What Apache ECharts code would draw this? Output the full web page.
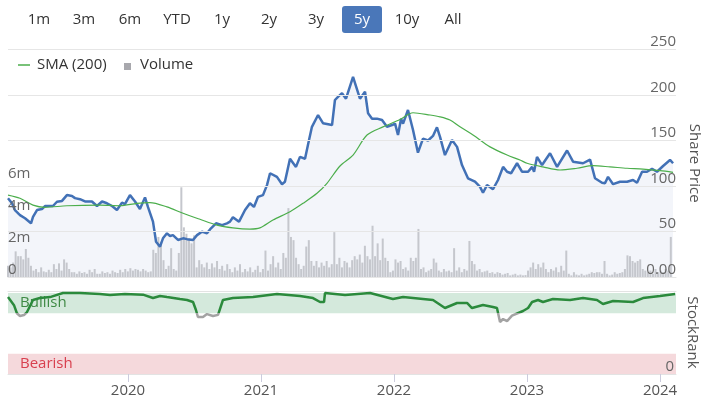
<!DOCTYPE html>
<html>
<head>
<meta charset="utf-8">
<title>Share Price - 5y</title>
<script src="https://cdn.jsdelivr.net/npm/echarts@6.0.0/dist/echarts.min.js"></script>
<style>
  html, body { margin: 0; padding: 0; background: #fff; }
  #chart { width: 711px; height: 398px; }
</style>
</head>
<body>
<div id="chart"></div>
<script>
const FONT = '"Open Sans", "Noto Sans", sans-serif';

// range buttons
const ranges = ['1m', '3m', '6m', 'YTD', '1y', '2y', '3y', '5y', '10y', 'All'];
const activeRange = '5y';

// x values are decimal years
const xMin = 2019.098;
const xMax = 2024.12;
const yearTicks = [2020, 2021, 2022, 2023, 2024];

// share price [year, price]
const price = [
  [2019.098, 86.5], [2019.128, 81], [2019.150, 73.6], [2019.188, 68], [2019.226, 64.5],
  [2019.271, 59], [2019.286, 66], [2019.316, 73.6], [2019.353, 74.7], [2019.376, 78],
  [2019.436, 78], [2019.466, 82.7], [2019.504, 83.6], [2019.541, 90], [2019.579, 89],
  [2019.602, 86.7], [2019.639, 85.5], [2019.677, 83], [2019.729, 83], [2019.767, 78],
  [2019.805, 83], [2019.842, 81], [2019.880, 78], [2019.917, 73.6], [2019.955, 81.7],
  [2019.977, 80], [2020.015, 90], [2020.053, 83], [2020.090, 74.7], [2020.128, 87.5],
  [2020.150, 77], [2020.188, 60.8], [2020.211, 38.8], [2020.241, 33.3], [2020.263, 42.5],
  [2020.293, 48], [2020.316, 45], [2020.338, 46], [2020.376, 40.7], [2020.414, 42.5],
  [2020.444, 41.6], [2020.489, 40.7], [2020.519, 46], [2020.556, 49.8], [2020.594, 48],
  [2020.624, 53.5], [2020.662, 59], [2020.707, 57], [2020.744, 59], [2020.767, 60.8],
  [2020.789, 65.6], [2020.835, 60.8], [2020.880, 73.6], [2020.917, 81], [2020.947, 77],
  [2020.977, 88], [2021.015, 90], [2021.045, 101], [2021.068, 114], [2021.120, 110],
  [2021.158, 102], [2021.180, 104.7], [2021.218, 130], [2021.263, 121], [2021.293, 132],
  [2021.331, 130], [2021.353, 145], [2021.383, 165], [2021.429, 178], [2021.466, 169],
  [2021.534, 167], [2021.556, 194.5], [2021.579, 198], [2021.609, 202], [2021.639, 196],
  [2021.692, 220], [2021.707, 222], [2021.744, 196], [2021.782, 203.6], [2021.805, 180],
  [2021.835, 174], [2021.872, 174], [2021.910, 172.5], [2021.947, 165], [2021.985, 167],
  [2022.008, 168.5], [2022.030, 156], [2022.053, 174], [2022.068, 168.5], [2022.105, 183.5],
  [2022.143, 161.5], [2022.180, 136.6], [2022.218, 152], [2022.256, 150], [2022.293, 155],
  [2022.323, 164.5], [2022.346, 154], [2022.383, 134], [2022.436, 150.5], [2022.474, 143],
  [2022.511, 123], [2022.556, 108.5], [2022.609, 104.7], [2022.647, 99], [2022.669, 92.6],
  [2022.699, 101], [2022.744, 96.4], [2022.782, 106.6], [2022.820, 121], [2022.850, 115.7],
  [2022.880, 114], [2022.925, 125], [2022.962, 115.7], [2023.008, 115.7], [2023.038, 121],
  [2023.053, 115.7], [2023.075, 132], [2023.113, 123], [2023.173, 136], [2023.226, 121],
  [2023.301, 139], [2023.346, 126.7], [2023.421, 125], [2023.474, 129], [2023.511, 108.5],
  [2023.564, 103.6], [2023.586, 103], [2023.609, 110], [2023.647, 102], [2023.699, 104.7],
  [2023.752, 104.7], [2023.797, 106.6], [2023.827, 103.6], [2023.865, 115.7], [2023.902, 115.7],
  [2023.940, 119], [2023.977, 115.7], [2024.023, 122], [2024.075, 128.6], [2024.098, 125]
];

// 200 day moving average [year, price]
const sma200 = [
  [2019.098, 90], [2019.188, 86.5], [2019.286, 79], [2019.376, 76.6], [2019.541, 78.3],
  [2019.789, 79], [2019.940, 78.3], [2020.068, 81], [2020.165, 81.7], [2020.293, 77],
  [2020.414, 70], [2020.541, 63.4], [2020.669, 57], [2020.789, 54], [2020.917, 52.7],
  [2020.992, 54], [2021.090, 62.6], [2021.218, 71.8], [2021.316, 81], [2021.421, 92],
  [2021.496, 103], [2021.594, 122], [2021.692, 134], [2021.797, 156], [2021.917, 165],
  [2022.045, 173], [2022.143, 180.5], [2022.271, 178], [2022.346, 176], [2022.421, 172.5],
  [2022.496, 165], [2022.594, 156], [2022.722, 143], [2022.850, 134], [2022.947, 128.6],
  [2023.000, 125], [2023.120, 121], [2023.248, 117.6], [2023.376, 119.5], [2023.496, 122.3],
  [2023.624, 121], [2023.752, 119.5], [2023.872, 118.5], [2024.000, 116.8], [2024.098, 115]
];

// weekly volume in millions, first week starts at volStart
const volStart = 2019.098;
const volume = [
  0.7, 0.6, 0.9, 1.6, 1.3, 1.3, 1.1, 1.75, 1.2, 0.7,
  0.4, 0.5, 0.3, 0.6, 0.35, 0.3, 0.45, 0.3, 0.8, 0.5,
  0.85, 0.4, 1.1, 0.9, 0.5, 0.3, 0.3, 0.2, 0.35, 0.25,
  0.3, 0.2, 0.45, 0.3, 0.5, 0.2, 0.2, 0.35, 0.25, 0.3,
  0.2, 0.4, 0.3, 0.25, 0.45, 0.3, 0.5, 0.35, 0.55, 0.4,
  0.5, 0.45, 0.35, 0.5, 0.4, 0.3, 0.35, 1.7, 1.5, 2.5,
  2.2, 1.05, 0.5, 0.7, 1.8, 0.5, 0.4, 1.5, 5.6, 3.1,
  2.7, 2.4, 2.1, 2.6, 0.6, 1.05, 0.8, 0.6, 0.9, 0.5,
  0.85, 0.6, 1.0, 0.5, 0.7, 0.4, 0.8, 0.5, 0.3, 0.6,
  0.4, 0.8, 0.3, 0.5, 0.35, 0.6, 0.3, 0.45, 0.7, 0.3,
  0.5, 1.65, 0.4, 0.8, 1.3, 0.6, 0.9, 0.5, 1.5, 1.2,
  4.3, 2.5, 2.3, 1.2, 0.8, 0.5, 0.7, 1.9, 2.3, 1.0,
  0.7, 1.0, 0.6, 0.9, 0.7, 1.0, 0.6, 0.8, 2.8, 0.8,
  1.2, 0.6, 1.0, 0.9, 0.6, 1.05, 1.3, 1.1, 1.4, 0.9,
  1.95, 1.3, 1.1, 3.2, 1.3, 2.1, 1.05, 2.4, 1.2, 1.0,
  0.3, 0.4, 1.1, 0.9, 1.0, 0.5, 0.6, 0.4, 1.2, 1.0,
  1.2, 3.0, 0.5, 0.6, 0.3, 0.4, 0.5, 1.15, 0.9, 0.4,
  0.3, 0.5, 0.35, 0.4, 0.3, 1.8, 0.4, 0.6, 0.3, 0.5,
  0.4, 2.25, 1.0, 0.8, 0.4, 0.5, 0.3, 0.35, 0.4, 0.25,
  0.3, 0.2, 0.3, 0.25, 0.15, 0.2, 0.25, 0.1, 0.15, 0.2,
  0.1, 0.15, 0.1, 0.12, 0.4, 0.6, 0.9, 0.5, 0.8, 0.6,
  0.9, 0.5, 0.3, 0.5, 0.4, 0.6, 0.3, 0.7, 0.4, 1.65,
  0.2, 0.1, 0.3, 0.15, 0.1, 0.2, 0.1, 0.15, 0.2, 0.3,
  0.25, 0.3, 0.3, 0.2, 1.0, 0.2, 0.1, 0.15, 0.3, 0.2,
  0.25, 0.3, 0.5, 1.35, 1.3, 1.0, 0.9, 1.0, 1.1, 0.5,
  0.4, 0.3, 0.4, 0.2, 0.5, 0.3, 0.4, 0.3, 0.5, 0.4, 2.5
];

// StockRank [year, rank]
const stockRank = [
  [2019.098, 95], [2019.143, 85], [2019.165, 75], [2019.188, 71.6], [2019.218, 72.8],
  [2019.241, 76.5], [2019.286, 91.4], [2019.338, 93.8], [2019.414, 95], [2019.511, 100],
  [2019.639, 100], [2019.789, 98.8], [2019.865, 97.5], [2019.977, 98.8], [2020.113, 98],
  [2020.188, 93.8], [2020.241, 96.3], [2020.293, 95], [2020.391, 92.6], [2020.444, 91.4],
  [2020.489, 88.9], [2020.511, 79], [2020.526, 70.4], [2020.564, 70.4], [2020.594, 74],
  [2020.639, 71.6], [2020.677, 73], [2020.714, 91.4], [2020.789, 93.8], [2020.940, 95],
  [2021.120, 98.8], [2021.293, 96.3], [2021.391, 93.8], [2021.444, 88.9], [2021.474, 88.9],
  [2021.481, 100], [2021.632, 97.5], [2021.820, 100], [2021.992, 92.6], [2022.068, 95],
  [2022.218, 92.6], [2022.293, 91.4], [2022.383, 81.5], [2022.474, 87.7], [2022.549, 87.7],
  [2022.586, 81.5], [2022.669, 85.2], [2022.744, 82.7], [2022.774, 81.5], [2022.797, 64.2],
  [2022.820, 67.9], [2022.850, 65.4], [2022.887, 72], [2022.970, 77.8], [2023.008, 81.5],
  [2023.038, 88.9], [2023.083, 91.4], [2023.120, 88.9], [2023.195, 92.6], [2023.323, 91.4],
  [2023.421, 93.8], [2023.526, 91.4], [2023.571, 86.4], [2023.647, 90.1], [2023.797, 88.9],
  [2023.872, 93.8], [2024.000, 96.3], [2024.113, 98.8]
];
const bullishFrom = 75;
const bearishTo = 25;

const volumeData = volume.map((v, i) => [volStart + i * 7 / 365.25, v]);

// buttons across the top
const btnX = [39, 84, 130, 177, 222, 269, 316, 362, 407, 453];
const graphics = [];
ranges.forEach((r, i) => {
  if (r === activeRange) {
    graphics.push({
      type: 'rect', shape: { x: btnX[i] - 20, y: 6, width: 40, height: 27, r: 3 },
      style: { fill: '#4a77b9' }
    });
  }
  graphics.push({
    type: 'text', x: btnX[i], y: 20, z: 10,
    style: {
      text: r, fill: r === activeRange ? '#fff' : '#333',
      font: '15px ' + FONT, align: 'center', verticalAlign: 'middle'
    }
  });
});
// legend
graphics.push(
  { type: 'line', shape: { x1: 18, y1: 65, x2: 30, y2: 65 }, style: { stroke: '#4cae4c', lineWidth: 1.5 } },
  { type: 'text', x: 37, y: 65, style: { text: 'SMA (200)', fill: '#333', font: '15px ' + FONT, verticalAlign: 'middle' } },
  { type: 'rect', shape: { x: 124, y: 63, width: 7, height: 7 }, style: { fill: '#a8a8ad' } },
  { type: 'text', x: 140, y: 65, style: { text: 'Volume', fill: '#333', font: '15px ' + FONT, verticalAlign: 'middle' } }
);

const chart = echarts.init(document.getElementById('chart'));

const option = {
  animation: false,
  backgroundColor: '#fff',
  textStyle: { fontFamily: FONT },
  graphic: graphics,
  grid: [
    { left: 8, right: 35, top: 49.5, height: 227.5 },
    { left: 8, right: 35, top: 291, height: 83 }
  ],
  xAxis: [
    {
      type: 'value', gridIndex: 0, min: xMin, max: xMax,
      axisLine: { show: true, lineStyle: { color: '#e3e3e3' } },
      axisTick: { show: false }, axisLabel: { show: false }, splitLine: { show: false }
    },
    {
      type: 'value', gridIndex: 1, min: xMin, max: xMax,
      axisLine: { show: true, lineStyle: { color: '#e3e3e3' } },
      axisTick: { show: true, length: 8, customValues: yearTicks, lineStyle: { color: '#ccd' } },
      axisLabel: { customValues: yearTicks, color: '#555', fontSize: 15, margin: 9, formatter: v => String(v) },
      splitLine: { show: false }
    },
    {
      // thin line along the top of the StockRank panel
      type: 'value', gridIndex: 1, position: 'top', min: xMin, max: xMax,
      axisLine: { show: true, lineStyle: { color: '#e3e3e3' } },
      axisTick: { show: false }, axisLabel: { show: false }, splitLine: { show: false }
    }
  ],
  yAxis: [
    {
      type: 'value', gridIndex: 0, position: 'right', min: 0, max: 250, interval: 50, z: 6,
      name: 'Share Price', nameLocation: 'middle', nameRotate: -90, nameGap: 8,
      nameTextStyle: { color: '#555', fontSize: 15 },
      axisLine: { show: false }, axisTick: { show: false },
      axisLabel: {
        inside: true, color: '#666', fontSize: 15, verticalAlign: 'bottom', margin: 0,
        formatter: v => v === 0 ? '0.00' : String(v)
      },
      splitLine: { lineStyle: { color: '#e6e6e6' } }
    },
    {
      type: 'value', gridIndex: 0, position: 'left', min: 0, max: 14.2, interval: 2, z: 6,
      axisLine: { show: false }, axisTick: { show: false }, splitLine: { show: false },
      axisLabel: {
        inside: true, color: '#666', fontSize: 15, verticalAlign: 'bottom', margin: 0,
        showMaxLabel: false,
        formatter: v => v > 6 ? '' : (v === 0 ? '0' : v + 'm')
      }
    },
    {
      type: 'value', gridIndex: 1, position: 'right', min: 0, max: 102.5, interval: 100, z: 6,
      name: 'StockRank', nameLocation: 'middle', nameRotate: -90, nameGap: 8,
      nameTextStyle: { color: '#555', fontSize: 15 },
      axisLine: { show: false }, axisTick: { show: false }, splitLine: { show: false },
      axisLabel: {
        inside: true, color: '#666', fontSize: 15, verticalAlign: 'bottom', margin: 2,
        formatter: v => v === 0 ? '0' : ''
      }
    }
  ],
  visualMap: {
    show: false, type: 'piecewise', seriesIndex: 4, dimension: 1,
    pieces: [
      { min: 0, max: bullishFrom, color: '#a3a3a3' },
      { min: bullishFrom, max: 102.5, color: '#2b8a3c' }
    ]
  },
  series: [
    {
      name: 'area', type: 'line', xAxisIndex: 0, yAxisIndex: 0, data: price,
      showSymbol: false, silent: true, z: 1,
      lineStyle: { width: 0, opacity: 0 }, areaStyle: { color: '#f3f5fa', opacity: 1 }
    },
    {
      name: 'Volume', type: 'bar', xAxisIndex: 0, yAxisIndex: 1, data: volumeData,
      barWidth: 2, itemStyle: { color: '#c5c7cd' }, z: 2
    },
    {
      name: 'Price', type: 'line', xAxisIndex: 0, yAxisIndex: 0, data: price,
      showSymbol: false, z: 3, lineStyle: { color: '#4271b6', width: 2.5 }
    },
    {
      name: 'SMA (200)', type: 'line', xAxisIndex: 0, yAxisIndex: 0, data: sma200,
      smooth: 0.3, showSymbol: false, z: 4, lineStyle: { color: '#4cae4c', width: 1.2 }
    },
    {
      name: 'StockRank', type: 'line', xAxisIndex: 1, yAxisIndex: 2, data: stockRank,
      showSymbol: false, z: 3, lineStyle: { width: 2.5 }
    },
    {
      // bands behind the StockRank line
      name: 'bands', type: 'line', xAxisIndex: 1, yAxisIndex: 2, data: [],
      z: 1, silent: true,
      markArea: {
        silent: true,
        data: [
          [{
            yAxis: bullishFrom, itemStyle: { color: '#d4e9dc' },
            label: { show: true, position: 'insideLeft', offset: [7, 0], color: '#3f8a45', fontSize: 15, formatter: 'Bullish' }
          }, { yAxis: 100 }],
          [{
            yAxis: 0, itemStyle: { color: '#f5d9dc' },
            label: { show: true, position: 'insideLeft', offset: [7, 0], color: '#d8404f', fontSize: 15, formatter: 'Bearish' }
          }, { yAxis: bearishTo }]
        ]
      }
    }
  ]
};

chart.setOption(option);
</script>
</body>
</html>
